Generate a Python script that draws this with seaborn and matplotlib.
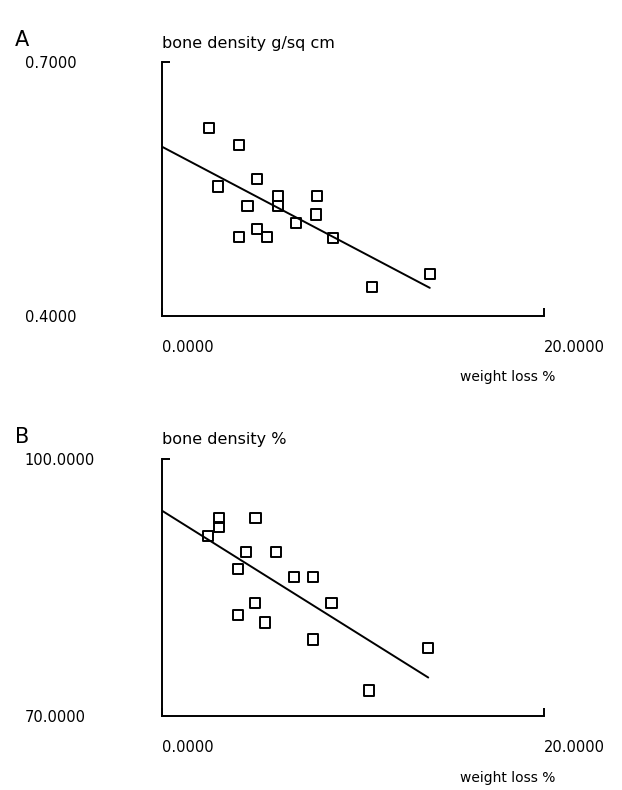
import numpy as np
import pandas as pd
import matplotlib
matplotlib.use('Agg')
import matplotlib.pyplot as plt
import seaborn as sns

# panel A: weight loss % vs bone density g/sq cm
loss_a = [2.47, 4.02, 2.94, 4.99, 6.07, 6.07, 4.48, 8.10, 8.08, 7.00, 4.96, 4.02, 5.51, 8.97, 14.02, 10.99]
dens_a = [0.622, 0.602, 0.553, 0.562, 0.542, 0.530, 0.530, 0.542, 0.520, 0.510, 0.503, 0.493, 0.493, 0.492, 0.450, 0.434]

# panel B: weight loss % vs bone density %
loss_b = [2.98, 2.98, 2.42, 4.90, 4.40, 5.97, 3.98, 6.91, 7.89, 8.88, 4.88, 3.98, 5.41, 7.89, 13.94, 10.84]
dens_b = [93.15, 92.03, 91.05, 93.12, 89.18, 89.18, 87.13, 86.23, 86.23, 83.16, 83.16, 81.83, 80.93, 78.92, 77.91, 72.98]

x_range = [0.0, 20.0]
y_range_a = [0.4, 0.7]
y_range_b = [70.0, 100.0]

sns.set_style('white')
plt.rcParams['font.family'] = ['DejaVu Sans']
plt.rcParams['text.color'] = 'black'
plt.rcParams['xtick.color'] = 'black'
plt.rcParams['ytick.color'] = 'black'

W, H = 622, 790
fig = plt.figure(figsize=(W / 100, H / 100), dpi=100)
ax_a = fig.add_axes([162 / W, 1 - 316 / H, 382 / W, 254 / H])
ax_b = fig.add_axes([162 / W, 1 - 716 / H, 382 / W, 257 / H])

panels = [
    (ax_a, loss_a, dens_a, y_range_a, 'A', 'bone density g/sq cm', 40),
    (ax_b, loss_b, dens_b, y_range_b, 'B', 'bone density %', 437),
]

for ax, xs, ys, yr, tag, ylab, tag_y in panels:
    df = pd.DataFrame({'loss': xs, 'dens': ys})
    sns.scatterplot(data=df, x='loss', y='dens', ax=ax, marker='s', s=55,
                    facecolor='none', edgecolor='black', linewidth=1.4, zorder=3)

    # least squares line from 0 to the largest weight loss
    slope, icpt = np.polyfit(df['loss'], df['dens'], 1)
    fx = np.array([0.0, df['loss'].max()])
    ax.plot(fx, icpt + slope * fx, color='black', lw=1.4)

    ax.set_xlim(x_range)
    ax.set_ylim(yr)
    for s in ['top', 'right']:
        ax.spines[s].set_visible(False)
    for s in ['left', 'bottom']:
        ax.spines[s].set_linewidth(1.4)
        ax.spines[s].set_color('black')

    ax.set_xticks(x_range)
    ax.set_xticklabels([f'{v:.4f}' for v in x_range])
    ax.set_yticks(yr)
    ax.set_yticklabels([f'{v:.4f}' for v in yr])
    ax.tick_params(axis='both', direction='in', length=6, width=1.4,
                   color='black', labelcolor='black', labelsize=10.5,
                   left=True, bottom=True)
    ax.tick_params(axis='x', pad=17)
    ax.tick_params(axis='y', pad=99)
    for lbl in ax.get_xticklabels():
        lbl.set_ha('left')
    for lbl in ax.get_yticklabels():
        lbl.set_ha('left')
    ax.set_xlabel('')
    ax.set_ylabel('')

    ax.text(0.0, 1.074, ylab, transform=ax.transAxes, ha='left', va='center', fontsize=11.5)
    ax.text(1.029, -0.24, 'weight loss %', transform=ax.transAxes, ha='right', va='center', fontsize=10)
    fig.text(15 / W, 1 - tag_y / H, tag, ha='left', va='center', fontsize=15)

fig.savefig('out.png', dpi=100)
